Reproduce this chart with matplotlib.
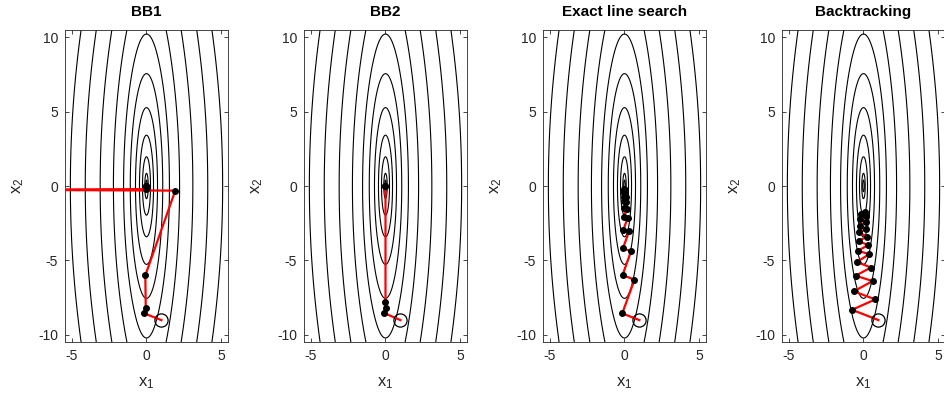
import numpy as np
import matplotlib
matplotlib.use("Agg")
import matplotlib.pyplot as plt

plt.rcParams['font.family'] = ['Liberation Sans', 'DejaVu Sans']
plt.rcParams['mathtext.default'] = 'regular'
plt.rcParams['axes.unicode_minus'] = False

# contour crossings
tops = [0.4, 0.85, 1.96, 3.41, 5.26, 7.54, 10.2]   # ellipse tops on the x2 axis
sides = [2.22, 3.11, 4.11, 5.11]                  # outer curves on the x1 axis

# iterates
bb1_x = [1, -0.15, -0.05, -0.08, 1.93, -11.0, 0.0, 0.0, 0.0]
bb1_y = [-9, -8.55, -8.18, -6.0, -0.31, -0.25, -0.21, -0.03, 0.0]

bb2_x = [1, -0.11, 0.03, 0.0, 0.0, 0.0]
bb2_y = [-9, -8.52, -8.17, -7.78, 0.0, 0.0]

els_x = [1, -0.15, 0.67, -0.13, 0.44, -0.11, 0.31, -0.07, 0.21, -0.05, 0.14, -0.04,
         0.10, -0.03, 0.07, -0.02, 0.05, -0.015, 0.035, -0.01, 0.02, 0.0]
els_y = [-9, -8.55, -6.29, -5.98, -4.37, -4.19, -3.04, -2.92, -2.15, -2.07, -1.52, -1.46,
         -1.06, -1.02, -0.74, -0.71, -0.52, -0.5, -0.36, -0.34, -0.24, -0.2]

bt_x = [1, -0.77, 0.79, -0.65, 0.61, -0.53, 0.5, -0.45, 0.38, -0.38, 0.3, -0.32,
        0.23, -0.28, 0.2, -0.25, 0.17, -0.21, 0.14, -0.19, 0.1]
bt_y = [-9, -8.31, -7.61, -7.07, -6.38, -6.02, -5.47, -5.1, -4.58, -4.34, -3.98, -3.68,
        -3.4, -3.12, -2.88, -2.66, -2.42, -2.2, -2.0, -1.88, -1.74]

titles = ['BB1', 'BB2', 'Exact line search', 'Backtracking']
paths = [(bb1_x, bb1_y), (bb2_x, bb2_y), (els_x, els_y), (bt_x, bt_y)]

a = 0.45
b = 0.0042
def f(x1, x2):
    return np.sqrt(1 + a*x1**2) + b*x2**2

g1 = np.linspace(-6, 6, 601)
g2 = np.linspace(-11, 11, 901)
X1, X2 = np.meshgrid(g1, g2)
Z = f(X1, X2)
levels = sorted([f(0.0, t) for t in tops] + [f(s, 0.0) for s in sides])

fig = plt.figure(figsize=(9.45, 3.98), dpi=100)
lefts = [65, 304, 543, 782]
grey = '#262626'
for i in range(4):
    ax = fig.add_axes([lefts[i]/945, 56/398, 163/945, 312/398])
    ax.contour(X1, X2, Z, levels=levels, colors='k', linewidths=0.8)
    px, py = paths[i]
    ax.plot(px, py, '-', color='r', lw=1.6, zorder=3)
    ax.plot(px[1:], py[1:], 'o', color='k', ms=4, zorder=4)
    ax.plot(px[0], py[0], 'o', mfc='none', mec='k', ms=9.5, mew=0.9, zorder=4)
    ax.set_xlim(-5.47, 5.47)
    ax.set_ylim(-10.47, 10.47)
    ax.set_xticks([-5, 0, 5])
    ax.set_yticks([-10, -5, 0, 5, 10])
    ax.tick_params(direction='in', top=True, right=True, length=3, width=0.6,
                   labelsize=10, colors=grey, pad=5)
    for sp in ax.spines.values():
        sp.set_color(grey)
        sp.set_linewidth(0.6)
    ax.set_title(titles[i], fontsize=11, fontweight='bold', pad=10)
    ax.set_xlabel('x$_1$', fontsize=12, color=grey, labelpad=9)
    ax.set_ylabel('x$_2$', fontsize=12, color=grey, labelpad=9)

fig.savefig('out.png', dpi=100)
